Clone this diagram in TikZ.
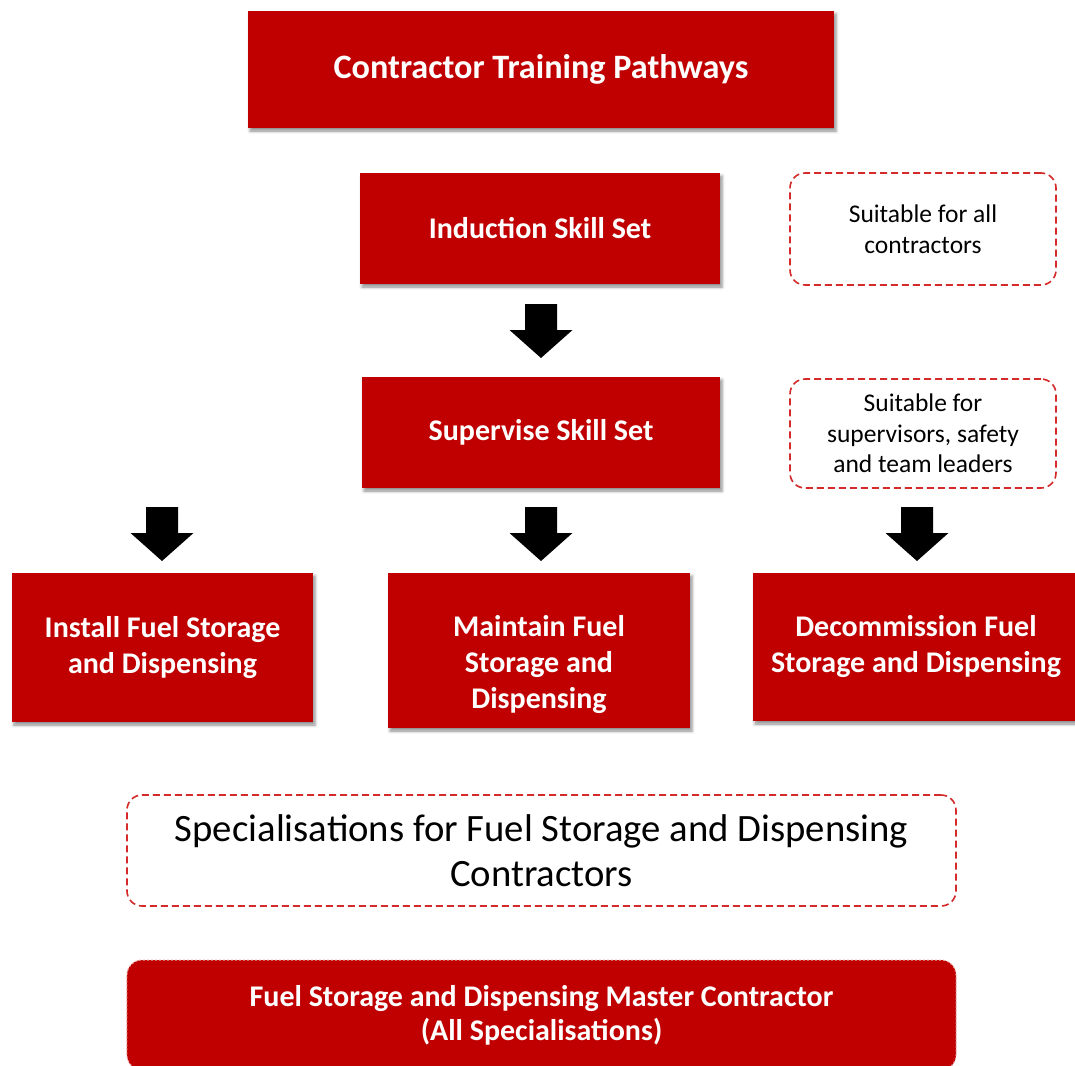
\documentclass[tikz,border=0pt]{standalone}
\usepackage{fontspec}
\setmainfont{Carlito}
\usetikzlibrary{shadows.blur}
\definecolor{boxred}{HTML}{C00000}
\definecolor{dashred}{HTML}{D42A2A}
\begin{document}
\begin{tikzpicture}[x=1bp,y=-1bp,
  redtext/.style={text=white,font=\bfseries\fontsize{30bp}{36bp}\selectfont,align=center,inner sep=0pt},
  redbox/.style={draw=none,fill=boxred,redtext,
    blur shadow={shadow xshift=2bp,shadow yshift=-3bp,shadow blur radius=3bp,shadow opacity=45}},
  notebox/.style={draw=dashred,line width=1.6bp,dash pattern=on 7bp off 4bp,rounded corners=15bp,fill=white,text=black,align=center,inner sep=0pt,
    font=\fontsize{25.5bp}{30.5bp}\selectfont},
  downarrow/.pic={\fill[black] (-16,0) -- (16,0) -- (16,26) -- (31.5,26) -- (0,54) -- (-31.5,26) -- (-16,26) -- cycle;}
]
\useasboundingbox (0,0) rectangle (1075,1066);
% main boxes
\node[redbox,minimum width=586bp,minimum height=117bp,font=\bfseries\fontsize{34.2bp}{40bp}\selectfont] (title) at (541,69.5) {Contractor Training Pathways};
\node[redbox,minimum width=360bp,minimum height=111bp] (induction) at (540,228.5) {Induction Skill Set};
\node[redbox,minimum width=358bp,minimum height=111bp] (supervise) at (541,432.5) {Supervise Skill Set};
\node[notebox,minimum width=266bp,minimum height=112bp] (note1) at (923,229) {Suitable for all\\contractors};
\node[notebox,minimum width=266bp,minimum height=109bp] (note2) at (923,433.5) {Suitable for\\supervisors, safety\\and team leaders};
% arrows
\pic at (541,304) {downarrow};
\pic at (162,507) {downarrow};
\pic at (541,507) {downarrow};
\pic at (917,507) {downarrow};
% specialisations
\node[redbox,minimum width=301bp,minimum height=149bp] (install) at (162.5,647.5) {Install Fuel Storage\\and Dispensing};
\node[redbox,minimum width=302bp,minimum height=155bp,label={[redtext,yshift=-14bp]center:{Maintain Fuel\\Storage and\\Dispensing}}] (maintain) at (539,650.5) {};
\node[redbox,minimum width=326bp,minimum height=148bp] (decom) at (916,647) {Decommission Fuel\\Storage and Dispensing};
% bottom
\node[notebox,minimum width=829bp,minimum height=111bp,font=\fontsize{38.7bp}{45bp}\selectfont] (spec) at (541.5,850.5) {Specialisations for Fuel Storage and Dispensing\\Contractors};
\node[draw=boxred!35,dash pattern=on 2bp off 2bp,line width=1bp,fill=boxred,rounded corners=15bp,text=white,align=center,inner sep=0pt,
  font=\bfseries\fontsize{30bp}{34bp}\selectfont,minimum width=829bp,minimum height=110bp] (master) at (541.5,1015) {Fuel Storage and Dispensing Master Contractor\\(All Specialisations)};
\end{tikzpicture}
\end{document}
